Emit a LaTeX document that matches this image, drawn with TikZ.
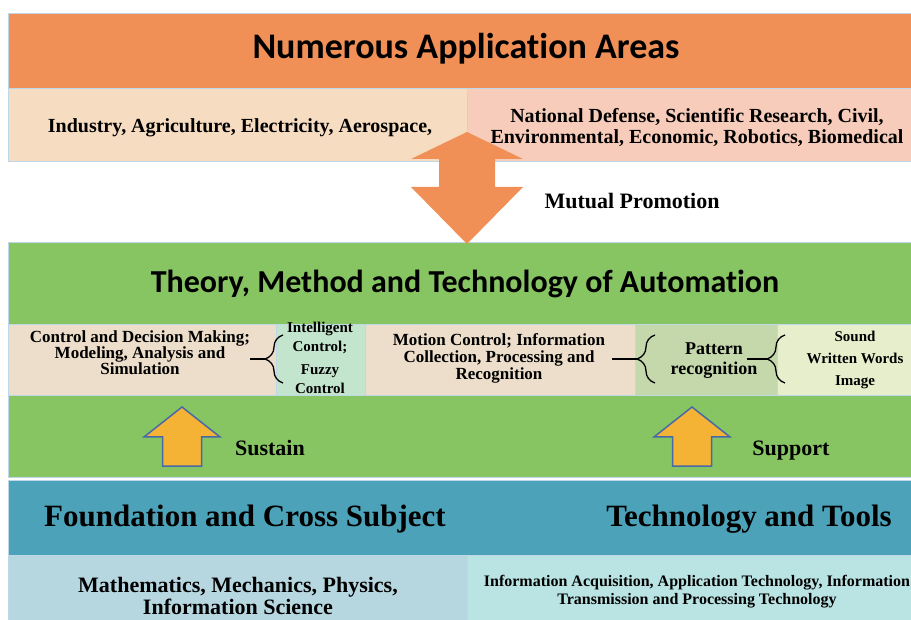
\documentclass[tikz,border=0pt]{standalone}
\usepackage{fontspec}
\setmainfont{Liberation Serif}
\newfontfamily\titlefont[RawFeature=-liga,RawFeature=-clig,RawFeature=-calt,RawFeature=-dlig]{Carlito}
\usetikzlibrary{positioning,decorations.pathreplacing}
\definecolor{areaOrange}{RGB}{240,143,86}
\definecolor{areaPeach}{RGB}{246,220,192}
\definecolor{areaPink}{RGB}{248,204,186}
\definecolor{theoGreen}{RGB}{135,197,98}
\definecolor{cellBeige}{RGB}{236,222,202}
\definecolor{cellMint}{RGB}{196,229,205}
\definecolor{cellSage}{RGB}{196,216,172}
\definecolor{cellLime}{RGB}{230,238,204}
\definecolor{baseBlue}{RGB}{76,163,185}
\definecolor{baseSky}{RGB}{183,215,224}
\definecolor{baseAqua}{RGB}{186,227,227}
\definecolor{arrowGold}{RGB}{245,179,53}
\definecolor{arrowEdge}{RGB}{72,104,168}
\definecolor{cellEdge}{RGB}{190,216,232}
\tikzset{
    band/.style={draw=cellEdge, line width=1pt},
    heading/.style={font=\titlefont\bfseries\fontsize{#1}{#1}\selectfont, inner sep=0pt},
    label/.style={font=\bfseries\fontsize{#1}{#1}\selectfont, inner sep=0pt, align=center},
    curly/.style={decorate, decoration={brace, amplitude=18pt, mirror}, line width=1.3pt},
    stub/.style={line width=1.3pt},
    goldarrow/.style={fill=arrowGold, draw=arrowEdge, line width=1.5pt, line join=miter}
}
\begin{document}
\begin{tikzpicture}[x=1pt,y=-1pt]
\useasboundingbox (0,0) rectangle (911,620);
\filldraw[band,fill=areaOrange] (8,14) rectangle (911,89);
\filldraw[band,fill=areaPeach] (8,89) rectangle (467,162);
\filldraw[band,fill=areaPink] (467,89) rectangle (911,162);
\filldraw[band,fill=theoGreen] (8,243) rectangle (911,477);
\filldraw[band,fill=cellBeige] (8,325) rectangle (276,396);
\filldraw[band,fill=cellMint] (276,325) rectangle (365,396);
\filldraw[band,fill=cellBeige] (365,325) rectangle (635,396);
\filldraw[band,fill=cellSage] (635,325) rectangle (777,396);
\filldraw[band,fill=cellLime] (777,325) rectangle (911,396);
\filldraw[band,fill=baseBlue] (8,480) rectangle (911,555);
\filldraw[band,fill=baseSky] (8,555) rectangle (467,620);
\filldraw[band,fill=baseAqua] (467,555) rectangle (911,620);
\fill[areaOrange] (467,132) -- (523,159) -- (495,159) -- (495,187) -- (523,187) -- (467,244)
    -- (411,187) -- (439,187) -- (439,159) -- (411,159) -- cycle;
\foreach \ax in {182,692}
  \filldraw[goldarrow] (\ax,407) -- (\ax+38,437) -- (\ax+19.5,437) -- (\ax+19.5,466)
    -- (\ax-19.5,466) -- (\ax-19.5,437) -- (\ax-38,437) -- cycle;
\node[heading=36,anchor=base] (areas) at (466,59) {Numerous Application Areas};
\node[label=20,anchor=base] (areasL) at (240,133) {Industry, Agriculture, Electricity, Aerospace,};
\node[label=20,font=\bfseries\fontsize{20}{21}\selectfont] (areasR) at (697,128)
    {National Defense, Scientific Research, Civil,\\Environmental, Economic, Robotics, Biomedical};
\node[label=22,anchor=base] (mutual) at (632,209) {Mutual Promotion};
\node[heading=32,anchor=base] (theory) at (465,293) {Theory, Method and Technology of Automation};
\node[label=17,font=\bfseries\fontsize{17}{16}\selectfont] (ctrl) at (140,353)
    {Control and Decision Making;\\Modeling, Analysis and\\Simulation};
\node[label=15,font=\bfseries\fontsize{15}{19}\selectfont] (intel) at (320,358)
    {Intelligent\\Control;\\[4pt]Fuzzy\\Control};
\node[label=17,font=\bfseries\fontsize{17}{17}\selectfont] (motion) at (499,358)
    {Motion Control; Information\\Collection, Processing and\\Recognition};
\node[label=18,font=\bfseries\fontsize{18}{20}\selectfont] (pattern) at (714,361) {Pattern\\recognition};
\node[label=15,font=\bfseries\fontsize{15}{22}\selectfont] (media) at (855,360) {Sound\\Written Words\\Image};
\node[label=22,anchor=base] (sustain) at (270,455) {Sustain};
\node[label=22,anchor=base] (support) at (791,456) {Support};
\node[label=31,anchor=base] (found) at (245,526) {Foundation and Cross Subject};
\node[label=31,anchor=base] (tools) at (749,526) {Technology and Tools};
\node[label=22,font=\bfseries\fontsize{22}{22}\selectfont] (math) at (238,596)
    {Mathematics, Mechanics, Physics,\\Information Science};
\node[label=16,font=\bfseries\fontsize{16}{18}\selectfont] (infotech) at (697,592)
    {Information Acquisition, Application Technology, Information\\Transmission and Processing Technology};
\draw[curly] (283,335) -- (283,383);
\draw[curly] (655,335) -- (655,383);
\draw[curly] (785,335) -- (785,383);
\coordinate (tipA) at (265,359);
\coordinate (stubA) at (250,359);
\coordinate (tipB) at (637,359);
\coordinate (stubB) at (612,359);
\coordinate (tipC) at (767,359);
\coordinate (stubC) at (747,359);
\draw[stub] (tipA) -- (stubA);
\draw[stub] (tipB) -- (stubB);
\draw[stub] (tipC) -- (stubC);
\end{tikzpicture}
\end{document}
